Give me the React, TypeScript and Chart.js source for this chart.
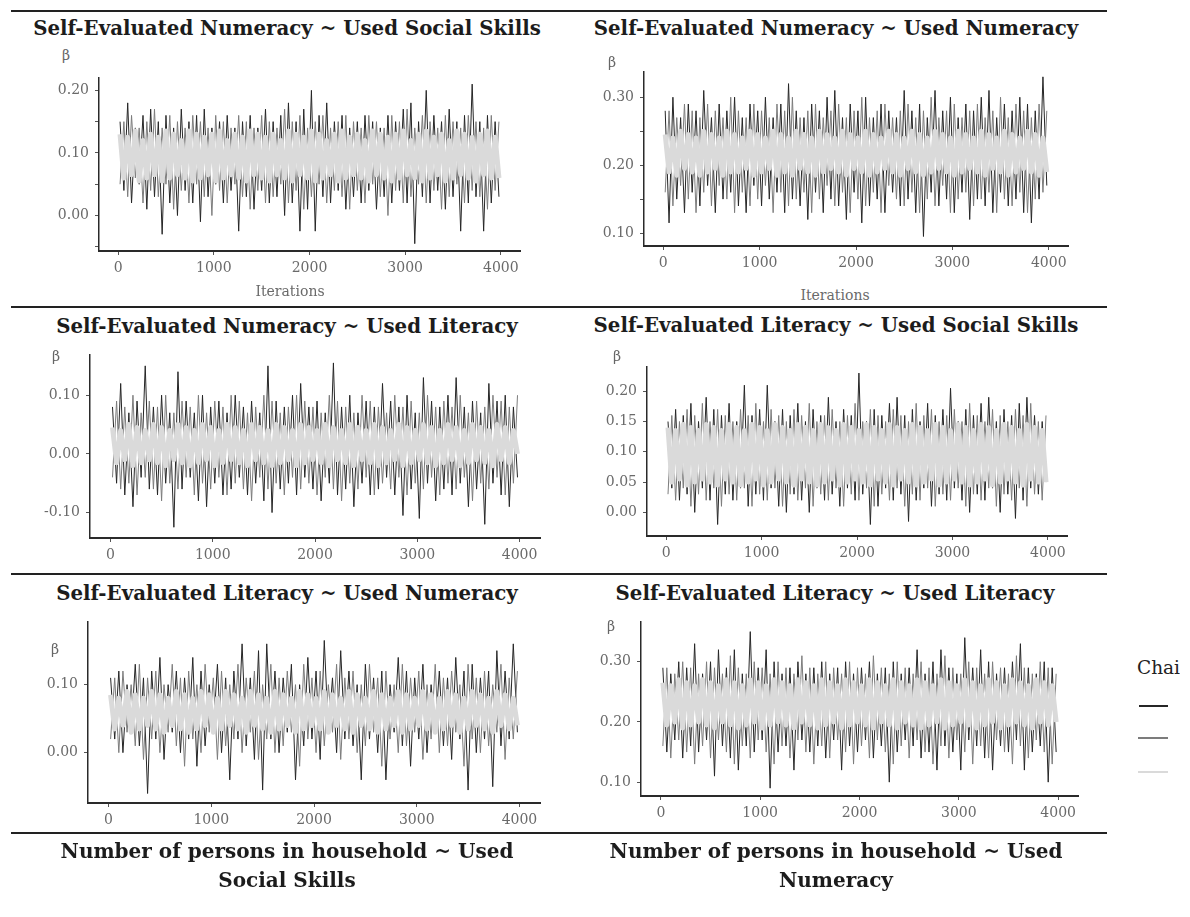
import React, { useEffect, useRef } from 'react';
import { Chart, registerables } from 'chart.js';

Chart.register(...registerables);

// ---------- shared axis data ----------
const ITER_START = 20; // first stored (thinned) draw
const ITER_STEP = 40; // one stored draw every 40 iterations
const X_TICKS = [0, 1000, 2000, 3000, 4000];
const X_LABELS = ['0', '1000', '2000', '3000', '4000'];
const X_MIN = -200;
const X_MAX = 4200;

// ---------- Panel 1: Self-Evaluated Numeracy ~ Used Social Skills ----------
const P1_CHAIN1 = [
  0.15, 0.04, 0.18, 0.02, 0.14, 0.05, 0.16, 0.01, 0.17, 0.03, 0.15, -0.03, 0.16, 0.02, 0.14, 0.0, 0.17, 0.04, 0.15, 0.02,
  0.16, -0.01, 0.17, 0.03, 0.14, 0.05, 0.15, 0.02, 0.16, 0.04, 0.14, -0.025, 0.15, 0.03, 0.16, 0.01, 0.14, 0.04, 0.17, 0.02,
  0.15, 0.03, 0.16, 0.0, 0.18, 0.02, 0.15, -0.025, 0.17, 0.01, 0.2, -0.025, 0.16, 0.03, 0.18, 0.02, 0.15, 0.04, 0.16, 0.01,
  0.14, 0.03, 0.15, 0.02, 0.16, 0.04, 0.15, 0.01, 0.14, 0.03, 0.16, 0.02, 0.15, 0.04, 0.17, 0.02, 0.18, -0.045, 0.15, 0.03,
  0.2, 0.02, 0.16, 0.04, 0.15, 0.01, 0.17, 0.03, 0.15, -0.025, 0.16, 0.02, 0.21, 0.03, 0.15, -0.025, 0.16, 0.02, 0.15, 0.03,
];
const P1_CHAIN2 = [
  0.05, 0.15, 0.03, 0.16, 0.06, 0.14, 0.02, 0.15, 0.04, 0.17, 0.03, 0.14, 0.05, 0.16, 0.01, 0.15, 0.04, 0.14, 0.02, 0.16,
  0.05, 0.15, 0.03, 0.14, 0.0, 0.16, 0.04, 0.15, 0.02, 0.14, 0.05, 0.16, 0.03, 0.15, 0.01, 0.14, 0.04, 0.16, 0.02, 0.15,
  0.03, 0.14, 0.05, 0.17, 0.02, 0.15, 0.04, 0.16, 0.01, 0.14, 0.03, 0.15, 0.05, 0.16, 0.02, 0.14, 0.04, 0.15, 0.03, 0.16,
  0.01, 0.15, 0.04, 0.14, 0.02, 0.16, 0.05, 0.15, 0.03, 0.14, 0.0, 0.16, 0.04, 0.15, 0.02, 0.17, 0.03, 0.14, 0.05, 0.16,
  0.02, 0.15, 0.04, 0.14, 0.01, 0.16, 0.03, 0.15, 0.05, 0.14, 0.02, 0.16, 0.04, 0.15, 0.03, 0.14, 0.01, 0.16, 0.04, 0.15,
];
const P1_CHAIN3 = [
  0.13, 0.06, 0.125, 0.065, 0.135, 0.055, 0.12, 0.06, 0.13, 0.065,
  0.125, 0.055, 0.135, 0.06, 0.13, 0.065, 0.12, 0.06, 0.135, 0.055,
  0.13, 0.06, 0.125, 0.065, 0.13, 0.055, 0.135, 0.06, 0.12, 0.065,
  0.13, 0.06, 0.125, 0.055, 0.135, 0.065, 0.13, 0.06, 0.125, 0.055,
  0.13, 0.065, 0.12, 0.06, 0.135, 0.055, 0.13, 0.065, 0.125, 0.06,
  0.135, 0.055, 0.13, 0.06, 0.12, 0.065, 0.13, 0.055, 0.135, 0.06,
  0.125, 0.065, 0.13, 0.06, 0.12, 0.055, 0.135, 0.065, 0.13, 0.06,
  0.125, 0.055, 0.13, 0.06, 0.135, 0.065, 0.12, 0.06, 0.13, 0.055,
  0.135, 0.06, 0.125, 0.065, 0.13, 0.055, 0.12, 0.06, 0.135, 0.065,
  0.13, 0.06, 0.125, 0.055, 0.13, 0.065, 0.135, 0.06, 0.125, 0.06,
];
const P1_Y_TICKS = [-0.05, 0, 0.05, 0.1, 0.15, 0.2];
const P1_Y_LABELS = ['', '0.00', '', '0.10', '', '0.20'];

// ---------- Panel 2: Self-Evaluated Numeracy ~ Used Numeracy ----------
const P2_CHAIN1 = [
  0.28, 0.115, 0.3, 0.15, 0.27, 0.13, 0.29, 0.16, 0.28, 0.14, 0.31, 0.17, 0.27, 0.13, 0.29, 0.15, 0.28, 0.16, 0.3, 0.14,
  0.27, 0.13, 0.29, 0.17, 0.28, 0.14, 0.3, 0.15, 0.27, 0.16, 0.29, 0.13, 0.32, 0.15, 0.28, 0.14, 0.27, 0.12, 0.29, 0.16,
  0.28, 0.13, 0.3, 0.15, 0.31, 0.14, 0.27, 0.12, 0.29, 0.16, 0.28, 0.115, 0.3, 0.14, 0.27, 0.15, 0.29, 0.13, 0.28, 0.16,
  0.27, 0.14, 0.31, 0.15, 0.28, 0.13, 0.29, 0.095, 0.27, 0.16, 0.31, 0.14, 0.28, 0.15, 0.3, 0.13, 0.27, 0.16, 0.29, 0.12,
  0.28, 0.15, 0.3, 0.14, 0.31, 0.13, 0.27, 0.16, 0.29, 0.14, 0.28, 0.15, 0.3, 0.13, 0.29, 0.115, 0.28, 0.15, 0.33, 0.17,
];
const P2_CHAIN2 = [
  0.16, 0.28, 0.14, 0.27, 0.17, 0.29, 0.15, 0.28, 0.13, 0.27, 0.16, 0.29, 0.14, 0.28, 0.17, 0.27, 0.15, 0.3, 0.13, 0.28,
  0.16, 0.27, 0.14, 0.29, 0.15, 0.28, 0.17, 0.27, 0.13, 0.29, 0.16, 0.28, 0.14, 0.3, 0.15, 0.27, 0.16, 0.28, 0.13, 0.29,
  0.15, 0.27, 0.17, 0.28, 0.14, 0.29, 0.16, 0.27, 0.13, 0.28, 0.15, 0.3, 0.14, 0.27, 0.16, 0.28, 0.13, 0.29, 0.17, 0.27,
  0.15, 0.28, 0.14, 0.29, 0.16, 0.27, 0.13, 0.28, 0.15, 0.3, 0.14, 0.27, 0.17, 0.28, 0.13, 0.29, 0.15, 0.27, 0.16, 0.28,
  0.14, 0.29, 0.15, 0.27, 0.16, 0.28, 0.13, 0.3, 0.15, 0.27, 0.14, 0.29, 0.16, 0.28, 0.13, 0.27, 0.15, 0.29, 0.16, 0.28,
];
const P2_CHAIN3 = [
  0.245, 0.19, 0.24, 0.185, 0.25, 0.195, 0.245, 0.19, 0.24, 0.185,
  0.25, 0.19, 0.245, 0.195, 0.24, 0.185, 0.25, 0.19, 0.245, 0.19,
  0.24, 0.195, 0.25, 0.185, 0.245, 0.19, 0.24, 0.195, 0.25, 0.185,
  0.245, 0.19, 0.24, 0.185, 0.25, 0.195, 0.245, 0.19, 0.24, 0.185,
  0.25, 0.19, 0.245, 0.195, 0.24, 0.19, 0.25, 0.185, 0.245, 0.195,
  0.24, 0.19, 0.25, 0.185, 0.245, 0.19, 0.24, 0.195, 0.25, 0.19,
  0.245, 0.185, 0.24, 0.195, 0.25, 0.19, 0.245, 0.185, 0.24, 0.19,
  0.25, 0.195, 0.245, 0.19, 0.24, 0.185, 0.25, 0.19, 0.245, 0.195,
  0.24, 0.19, 0.25, 0.185, 0.245, 0.195, 0.24, 0.19, 0.25, 0.185,
  0.245, 0.19, 0.24, 0.195, 0.25, 0.19, 0.245, 0.185, 0.24, 0.19,
];
const P2_Y_TICKS = [0.1, 0.15, 0.2, 0.25, 0.3];
const P2_Y_LABELS = ['0.10', '', '0.20', '', '0.30'];

// ---------- Panel 3: Self-Evaluated Numeracy ~ Used Literacy ----------
const P3_CHAIN1 = [
  0.08, -0.05, 0.12, -0.07, 0.07, -0.09, 0.09, -0.04, 0.15, -0.06, 0.08, -0.07, 0.1, -0.05, 0.07, -0.125, 0.14, -0.06, 0.09, -0.04,
  0.07, -0.08, 0.1, -0.09, 0.08, -0.05, 0.09, -0.07, 0.07, -0.06, 0.1, -0.04, 0.08, -0.07, 0.09, -0.05, 0.07, -0.08, 0.15, -0.1,
  0.09, -0.06, 0.08, -0.05, 0.1, -0.07, 0.12, -0.04, 0.08, -0.06, 0.09, -0.08, 0.07, -0.05, 0.155, -0.07, 0.08, -0.06, 0.1, -0.09,
  0.07, -0.05, 0.09, -0.07, 0.08, -0.06, 0.12, -0.04, 0.09, -0.07, 0.08, -0.105, 0.1, -0.06, 0.07, -0.11, 0.13, -0.05, 0.09, -0.08,
  0.08, -0.06, 0.1, -0.07, 0.13, -0.05, 0.08, -0.09, 0.09, -0.06, 0.07, -0.12, 0.12, -0.05, 0.09, -0.07, 0.1, -0.09, 0.08, -0.04,
];
const P3_CHAIN2 = [
  -0.04, 0.09, -0.06, 0.08, -0.05, 0.1, -0.07, 0.07, -0.04, 0.09, -0.06, 0.08, -0.08, 0.1, -0.05, 0.07, -0.06, 0.09, -0.04, 0.08,
  -0.07, 0.1, -0.05, 0.07, -0.06, 0.09, -0.04, 0.08, -0.07, 0.1, -0.05, 0.09, -0.06, 0.07, -0.08, 0.08, -0.04, 0.1, -0.06, 0.09,
  -0.05, 0.07, -0.07, 0.08, -0.04, 0.1, -0.06, 0.09, -0.05, 0.08, -0.07, 0.07, -0.04, 0.1, -0.06, 0.09, -0.08, 0.08, -0.05, 0.07,
  -0.06, 0.1, -0.04, 0.09, -0.07, 0.08, -0.05, 0.07, -0.06, 0.1, -0.04, 0.08, -0.07, 0.09, -0.05, 0.07, -0.06, 0.1, -0.04, 0.08,
  -0.07, 0.09, -0.05, 0.08, -0.06, 0.1, -0.04, 0.07, -0.08, 0.09, -0.05, 0.08, -0.06, 0.1, -0.04, 0.09, -0.07, 0.08, -0.05, 0.1,
];
const P3_CHAIN3 = [
  0.045, -0.015, 0.04, -0.01, 0.05, -0.02, 0.045, -0.015, 0.04, -0.01,
  0.05, -0.015, 0.045, -0.02, 0.04, -0.01, 0.05, -0.015, 0.045, -0.02,
  0.04, -0.015, 0.05, -0.01, 0.045, -0.02, 0.04, -0.015, 0.05, -0.01,
  0.045, -0.015, 0.04, -0.02, 0.05, -0.01, 0.045, -0.015, 0.04, -0.02,
  0.05, -0.015, 0.045, -0.01, 0.04, -0.02, 0.05, -0.015, 0.045, -0.01,
  0.04, -0.015, 0.05, -0.02, 0.045, -0.01, 0.04, -0.015, 0.05, -0.02,
  0.045, -0.01, 0.04, -0.015, 0.05, -0.02, 0.045, -0.015, 0.04, -0.01,
  0.05, -0.02, 0.045, -0.015, 0.04, -0.01, 0.05, -0.015, 0.045, -0.02,
  0.04, -0.015, 0.05, -0.01, 0.045, -0.02, 0.04, -0.015, 0.05, -0.01,
  0.045, -0.015, 0.04, -0.02, 0.05, -0.01, 0.045, -0.015, 0.04, 0.0,
];
const P3_Y_TICKS = [-0.1, 0, 0.1];
const P3_Y_LABELS = ['-0.10', '0.00', '0.10'];

// ---------- Panel 4: Self-Evaluated Literacy ~ Used Social Skills ----------
const P4_CHAIN1 = [
  0.15, 0.04, 0.17, 0.02, 0.16, 0.03, 0.18, 0.0, 0.15, 0.04, 0.19, 0.02, 0.17, -0.02, 0.16, 0.03, 0.18, 0.02, 0.15, 0.04,
  0.21, 0.01, 0.16, 0.03, 0.17, 0.02, 0.21, 0.04, 0.15, 0.01, 0.17, 0.0, 0.16, 0.03, 0.18, 0.02, 0.15, 0.0, 0.17, 0.04,
  0.16, 0.02, 0.19, 0.03, 0.15, 0.01, 0.17, 0.04, 0.16, 0.02, 0.23, 0.03, 0.15, -0.02, 0.17, 0.01, 0.16, 0.04, 0.18, 0.02,
  0.19, 0.03, 0.16, -0.015, 0.17, 0.02, 0.15, 0.04, 0.18, 0.01, 0.16, 0.03, 0.17, 0.02, 0.205, 0.04, 0.15, 0.02, 0.17, 0.0,
  0.16, 0.03, 0.18, 0.02, 0.19, 0.04, 0.15, 0.0, 0.17, 0.03, 0.16, -0.01, 0.18, 0.02, 0.19, 0.04, 0.16, 0.03, 0.15, 0.05,
];
const P4_CHAIN2 = [
  0.03, 0.16, 0.02, 0.15, 0.04, 0.17, 0.01, 0.16, 0.03, 0.18, 0.02, 0.15, 0.04, 0.17, 0.01, 0.16, 0.03, 0.15, 0.02, 0.17,
  0.04, 0.16, 0.01, 0.18, 0.03, 0.15, 0.02, 0.17, 0.04, 0.16, 0.01, 0.15, 0.03, 0.17, 0.02, 0.16, 0.04, 0.18, 0.01, 0.15,
  0.03, 0.16, 0.02, 0.17, 0.04, 0.15, 0.01, 0.16, 0.03, 0.18, 0.02, 0.15, 0.04, 0.17, 0.01, 0.16, 0.03, 0.15, 0.02, 0.17,
  0.04, 0.16, 0.01, 0.15, 0.03, 0.18, 0.02, 0.16, 0.04, 0.17, 0.01, 0.15, 0.03, 0.16, 0.02, 0.17, 0.04, 0.15, 0.01, 0.18,
  0.03, 0.16, 0.02, 0.15, 0.04, 0.17, 0.01, 0.16, 0.03, 0.15, 0.02, 0.17, 0.04, 0.16, 0.01, 0.18, 0.03, 0.15, 0.02, 0.16,
];
const P4_CHAIN3 = [
  0.14, 0.05, 0.135, 0.055, 0.145, 0.045, 0.14, 0.05, 0.135, 0.055,
  0.145, 0.05, 0.14, 0.045, 0.135, 0.055, 0.145, 0.05, 0.14, 0.045,
  0.135, 0.05, 0.145, 0.055, 0.14, 0.045, 0.135, 0.05, 0.145, 0.055,
  0.14, 0.05, 0.135, 0.045, 0.145, 0.055, 0.14, 0.05, 0.135, 0.045,
  0.145, 0.05, 0.14, 0.055, 0.135, 0.045, 0.145, 0.05, 0.14, 0.055,
  0.135, 0.05, 0.145, 0.045, 0.14, 0.055, 0.135, 0.05, 0.145, 0.045,
  0.14, 0.055, 0.135, 0.05, 0.145, 0.045, 0.14, 0.05, 0.135, 0.055,
  0.145, 0.045, 0.14, 0.05, 0.135, 0.055, 0.145, 0.05, 0.14, 0.045,
  0.135, 0.05, 0.145, 0.055, 0.14, 0.045, 0.135, 0.05, 0.145, 0.055,
  0.14, 0.05, 0.135, 0.045, 0.145, 0.055, 0.14, 0.05, 0.135, 0.05,
];
const P4_Y_TICKS = [0, 0.05, 0.1, 0.15, 0.2];
const P4_Y_LABELS = ['0.00', '0.05', '0.10', '0.15', '0.20'];

// ---------- Panel 5: Self-Evaluated Literacy ~ Used Numeracy ----------
const P5_CHAIN1 = [
  0.11, 0.02, 0.12, 0.0, 0.1, 0.03, 0.13, 0.01, 0.11, -0.06, 0.12, 0.02, 0.14, -0.01, 0.1, 0.03, 0.12, 0.0, 0.11, 0.02,
  0.14, -0.02, 0.12, 0.01, 0.1, 0.03, 0.13, 0.0, 0.11, -0.04, 0.12, 0.02, 0.16, 0.01, 0.11, -0.01, 0.15, -0.055, 0.16, 0.02,
  0.12, 0.0, 0.11, 0.03, 0.13, -0.04, 0.1, 0.01, 0.14, 0.02, 0.12, -0.01, 0.165, 0.03, 0.11, 0.0, 0.15, 0.02, 0.12, 0.01,
  0.1, -0.04, 0.13, 0.02, 0.11, 0.0, 0.12, -0.04, 0.1, 0.03, 0.14, 0.01, 0.12, -0.02, 0.11, 0.02, 0.13, 0.0, 0.1, 0.03,
  0.12, 0.01, 0.11, -0.01, 0.14, 0.02, 0.12, -0.055, 0.13, 0.0, 0.11, 0.02, 0.12, -0.05, 0.15, 0.01, 0.12, 0.02, 0.16, 0.03,
];
const P5_CHAIN2 = [
  0.02, 0.11, 0.0, 0.12, 0.03, 0.1, 0.01, 0.13, -0.01, 0.11, 0.02, 0.12, 0.0, 0.1, 0.03, 0.13, 0.01, 0.11, -0.02, 0.12,
  0.02, 0.1, 0.0, 0.13, 0.03, 0.11, -0.01, 0.12, 0.01, 0.1, 0.02, 0.13, 0.0, 0.11, 0.03, 0.12, -0.01, 0.1, 0.02, 0.13,
  0.0, 0.11, 0.01, 0.12, 0.03, 0.1, -0.02, 0.13, 0.02, 0.11, 0.0, 0.12, 0.01, 0.1, 0.03, 0.13, -0.01, 0.11, 0.02, 0.12,
  0.0, 0.1, 0.01, 0.13, 0.03, 0.11, -0.02, 0.12, 0.02, 0.1, 0.0, 0.13, 0.01, 0.11, 0.03, 0.12, -0.01, 0.1, 0.02, 0.13,
  0.0, 0.11, 0.01, 0.12, 0.03, 0.1, -0.02, 0.13, 0.02, 0.11, 0.0, 0.12, 0.01, 0.1, 0.03, 0.13, -0.01, 0.11, 0.02, 0.12,
];
const P5_CHAIN3 = [
  0.085, 0.035, 0.08, 0.04, 0.09, 0.03, 0.085, 0.035, 0.08, 0.04,
  0.09, 0.035, 0.085, 0.03, 0.08, 0.04, 0.09, 0.035, 0.085, 0.03,
  0.08, 0.035, 0.09, 0.04, 0.085, 0.03, 0.08, 0.035, 0.09, 0.04,
  0.085, 0.035, 0.08, 0.03, 0.09, 0.04, 0.085, 0.035, 0.08, 0.03,
  0.09, 0.035, 0.085, 0.04, 0.08, 0.03, 0.09, 0.035, 0.085, 0.04,
  0.08, 0.035, 0.09, 0.03, 0.085, 0.04, 0.08, 0.035, 0.09, 0.03,
  0.085, 0.04, 0.08, 0.035, 0.09, 0.03, 0.085, 0.035, 0.08, 0.04,
  0.09, 0.03, 0.085, 0.035, 0.08, 0.04, 0.09, 0.035, 0.085, 0.03,
  0.08, 0.035, 0.09, 0.04, 0.085, 0.03, 0.08, 0.035, 0.09, 0.04,
  0.085, 0.035, 0.08, 0.03, 0.09, 0.04, 0.085, 0.035, 0.08, 0.04,
];
const P5_Y_TICKS = [0, 0.1];
const P5_Y_LABELS = ['0.00', '0.10'];

// ---------- Panel 6: Self-Evaluated Literacy ~ Used Literacy ----------
const P6_CHAIN1 = [
  0.29, 0.15, 0.28, 0.17, 0.3, 0.14, 0.29, 0.16, 0.33, 0.15, 0.28, 0.17, 0.3, 0.11, 0.32, 0.16, 0.29, 0.14, 0.32, 0.12,
  0.28, 0.16, 0.35, 0.15, 0.29, 0.17, 0.32, 0.09, 0.3, 0.15, 0.28, 0.16, 0.29, 0.12, 0.3, 0.17, 0.28, 0.15, 0.29, 0.16,
  0.3, 0.14, 0.28, 0.17, 0.29, 0.12, 0.3, 0.16, 0.28, 0.15, 0.29, 0.17, 0.3, 0.14, 0.28, 0.16, 0.29, 0.1, 0.3, 0.15,
  0.28, 0.17, 0.29, 0.16, 0.32, 0.14, 0.28, 0.15, 0.3, 0.12, 0.32, 0.16, 0.29, 0.15, 0.28, 0.12, 0.34, 0.17, 0.29, 0.16,
  0.32, 0.14, 0.3, 0.12, 0.28, 0.16, 0.29, 0.15, 0.3, 0.17, 0.33, 0.12, 0.29, 0.15, 0.28, 0.16, 0.3, 0.1, 0.29, 0.15,
];
const P6_CHAIN2 = [
  0.16, 0.29, 0.14, 0.28, 0.17, 0.3, 0.15, 0.29, 0.13, 0.28, 0.16, 0.3, 0.14, 0.29, 0.17, 0.28, 0.15, 0.31, 0.13, 0.29,
  0.16, 0.28, 0.14, 0.3, 0.17, 0.29, 0.15, 0.28, 0.13, 0.3, 0.16, 0.29, 0.14, 0.28, 0.17, 0.31, 0.15, 0.29, 0.13, 0.28,
  0.16, 0.3, 0.14, 0.29, 0.17, 0.28, 0.15, 0.3, 0.13, 0.29, 0.16, 0.28, 0.14, 0.31, 0.17, 0.29, 0.15, 0.28, 0.13, 0.3,
  0.16, 0.29, 0.14, 0.28, 0.17, 0.3, 0.15, 0.29, 0.13, 0.28, 0.16, 0.31, 0.14, 0.29, 0.17, 0.28, 0.15, 0.3, 0.13, 0.29,
  0.16, 0.28, 0.14, 0.3, 0.17, 0.29, 0.15, 0.28, 0.13, 0.31, 0.16, 0.29, 0.14, 0.28, 0.17, 0.3, 0.15, 0.29, 0.13, 0.28,
];
const P6_CHAIN3 = [
  0.265, 0.195, 0.26, 0.2, 0.27, 0.19, 0.265, 0.195, 0.26, 0.2,
  0.27, 0.195, 0.265, 0.19, 0.26, 0.2, 0.27, 0.195, 0.265, 0.19,
  0.26, 0.195, 0.27, 0.2, 0.265, 0.19, 0.26, 0.195, 0.27, 0.2,
  0.265, 0.195, 0.26, 0.19, 0.27, 0.2, 0.265, 0.195, 0.26, 0.19,
  0.27, 0.195, 0.265, 0.2, 0.26, 0.19, 0.27, 0.195, 0.265, 0.2,
  0.26, 0.195, 0.27, 0.19, 0.265, 0.2, 0.26, 0.195, 0.27, 0.19,
  0.265, 0.2, 0.26, 0.195, 0.27, 0.19, 0.265, 0.195, 0.26, 0.2,
  0.27, 0.19, 0.265, 0.195, 0.26, 0.2, 0.27, 0.195, 0.265, 0.19,
  0.26, 0.195, 0.27, 0.2, 0.265, 0.19, 0.26, 0.195, 0.27, 0.2,
  0.265, 0.195, 0.26, 0.19, 0.27, 0.2, 0.265, 0.195, 0.26, 0.2,
];
const P6_Y_TICKS = [0.1, 0.2, 0.3];
const P6_Y_LABELS = ['0.10', '0.20', '0.30'];

// ---------- text ----------
const PANEL_TITLES = [
  'Self-Evaluated Numeracy ~ Used Social Skills',
  'Self-Evaluated Numeracy ~ Used Numeracy',
  'Self-Evaluated Numeracy ~ Used Literacy',
  'Self-Evaluated Literacy ~ Used Social Skills',
  'Self-Evaluated Literacy ~ Used Numeracy',
  'Self-Evaluated Literacy ~ Used Literacy',
];
const BOTTOM_TITLES = [
  ['Number of persons in household ~ Used', 'Social Skills'],
  ['Number of persons in household ~ Used', 'Numeracy'],
];
const CHAIN_COLORS = ['#262626', '#7c7c7c', '#dadada'];
const CHAIN_WIDTHS = [1, 1, 5];
const LEGEND_TITLE = 'Chain';

// ---------- layout (page pixels) ----------
type PanelCfg = {
  rect: [number, number, number, number]; // plot area: left, top, right, bottom
  yMin: number;
  yMax: number;
  yTicks: number[];
  yLabels: string[];
  chains: number[][];
  title: string;
  titleX: number;
  titleBase: number;
  beta: [number, number];
  iterLabel?: [number, number];
};

const PANELS: PanelCfg[] = [
  { rect: [99, 73, 520, 251], yMin: -0.0567, yMax: 0.2207, yTicks: P1_Y_TICKS, yLabels: P1_Y_LABELS,
    chains: [P1_CHAIN1, P1_CHAIN2, P1_CHAIN3], title: PANEL_TITLES[0], titleX: 287, titleBase: 36, beta: [66, 55], iterLabel: [290, 291] },
  { rect: [644, 67, 1068, 246], yMin: 0.081, yMax: 0.338, yTicks: P2_Y_TICKS, yLabels: P2_Y_LABELS,
    chains: [P2_CHAIN1, P2_CHAIN2, P2_CHAIN3], title: PANEL_TITLES[1], titleX: 836, titleBase: 36, beta: [612, 62], iterLabel: [835, 295] },
  { rect: [90, 350, 540, 538], yMin: -0.1433, yMax: 0.1695, yTicks: P3_Y_TICKS, yLabels: P3_Y_LABELS,
    chains: [P3_CHAIN1, P3_CHAIN2, P3_CHAIN3], title: PANEL_TITLES[2], titleX: 287, titleBase: 334, beta: [56, 356] },
  { rect: [647, 362, 1067, 536], yMin: -0.039, yMax: 0.241, yTicks: P4_Y_TICKS, yLabels: P4_Y_LABELS,
    chains: [P4_CHAIN1, P4_CHAIN2, P4_CHAIN3], title: PANEL_TITLES[3], titleX: 836, titleBase: 333, beta: [617, 356] },
  { rect: [88, 617, 540, 803], yMin: -0.074, yMax: 0.193, yTicks: P5_Y_TICKS, yLabels: P5_Y_LABELS,
    chains: [P5_CHAIN1, P5_CHAIN2, P5_CHAIN3], title: PANEL_TITLES[4], titleX: 287, titleBase: 601, beta: [55, 649] },
  { rect: [641, 617, 1078, 796], yMin: 0.077, yMax: 0.367, yTicks: P6_Y_TICKS, yLabels: P6_Y_LABELS,
    chains: [P6_CHAIN1, P6_CHAIN2, P6_CHAIN3], title: PANEL_TITLES[5], titleX: 835, titleBase: 601, beta: [611, 626] },
];

const Y_AXIS_W = 70;
const X_AXIS_H = 35;
const PAD_TOP = 10;
const PAD_RIGHT = 20;
const SERIF = '"DejaVu Serif", "Liberation Serif", serif';

function TracePanel({ cfg }: { cfg: PanelCfg }) {
  const ref = useRef<HTMLCanvasElement | null>(null);
  const [L, T, R, B] = cfg.rect;
  const width = R - L + Y_AXIS_W + PAD_RIGHT;
  const height = B - T + PAD_TOP + X_AXIS_H;

  useEffect(() => {
    if (!ref.current) return;
    const toPoints = (vals: number[]) => vals.map((v, i) => ({ x: ITER_START + i * ITER_STEP, y: v }));
    const datasets = cfg.chains.map((vals, ci) => ({
      label: `Chain ${ci + 1}`,
      data: toPoints(vals),
      borderColor: CHAIN_COLORS[ci],
      borderWidth: CHAIN_WIDTHS[ci],
      pointRadius: 0,
      tension: 0,
      borderJoinStyle: (ci === 2 ? 'round' : 'bevel') as any,
      order: 2 - ci, // chain 3 (light) drawn on top
    }));
    const chart = new Chart(ref.current, {
      type: 'line',
      data: { datasets },
      options: {
        animation: false,
        responsive: false,
        events: [],
        layout: { padding: { top: PAD_TOP, right: PAD_RIGHT, left: 0, bottom: 0 } },
        plugins: { legend: { display: false }, tooltip: { enabled: false }, title: { display: false } },
        scales: {
          x: {
            type: 'linear',
            min: X_MIN,
            max: X_MAX,
            afterBuildTicks: (scale: any) => {
              scale.ticks = X_TICKS.map((v) => ({ value: v }));
            },
            afterFit: (scale: any) => {
              scale.height = X_AXIS_H;
            },
            ticks: {
              autoSkip: false,
              maxRotation: 0,
              minRotation: 0,
              padding: 5,
              color: '#6a6a6a',
              font: { family: SERIF, size: 14 },
              callback: (_v: any, i: number) => X_LABELS[i],
            },
            grid: { display: true, drawOnChartArea: false, drawTicks: true, tickLength: 4, tickColor: '#555', tickWidth: 1 },
            border: { display: true, color: '#2a2a2a', width: 2 },
          },
          y: {
            type: 'linear',
            min: cfg.yMin,
            max: cfg.yMax,
            afterBuildTicks: (scale: any) => {
              scale.ticks = cfg.yTicks.map((v) => ({ value: v }));
            },
            afterFit: (scale: any) => {
              scale.width = Y_AXIS_W;
            },
            ticks: {
              autoSkip: false,
              padding: 6,
              color: '#6a6a6a',
              font: { family: SERIF, size: 14 },
              callback: (_v: any, i: number) => cfg.yLabels[i],
            },
            grid: { display: true, drawOnChartArea: false, drawTicks: true, tickLength: 4, tickColor: '#555', tickWidth: 1 },
            border: { display: true, color: '#2a2a2a', width: 1.5 },
          },
        },
      } as any,
    });
    return () => chart.destroy();
  }, [cfg]);

  return (
    <canvas
      ref={ref}
      width={width}
      height={height}
      style={{ position: 'absolute', left: L - Y_AXIS_W, top: T - PAD_TOP, width, height }}
    />
  );
}

const smallText = (x: number, y: number, text: string, size: number, color: string) => (
  <div
    key={`${text}-${x}-${y}`}
    style={{
      position: 'absolute',
      left: x,
      top: y,
      transform: 'translate(-50%, -50%)',
      fontFamily: SERIF,
      fontSize: size,
      lineHeight: `${size}px`,
      color,
      whiteSpace: 'nowrap',
    }}
  >
    {text}
  </div>
);

const TITLE_SIZE = 19.8;

function Title({ text, cx, baseline }: { text: string; cx: number; baseline: number }) {
  return (
    <div
      style={{
        position: 'absolute',
        left: cx - 400,
        width: 800,
        top: baseline - Math.round(TITLE_SIZE * 0.846),
        textAlign: 'center',
        fontFamily: SERIF,
        fontWeight: 'bold',
        fontSize: TITLE_SIZE,
        lineHeight: `${TITLE_SIZE}px`,
        color: '#1c1c1c',
        whiteSpace: 'nowrap',
      }}
    >
      {text}
    </div>
  );
}

const RULES_Y = [10, 306, 573, 832];

export default function App() {
  return (
    <div
      style={{
        position: 'fixed',
        left: 0,
        top: 0,
        width: 1190,
        height: 917,
        background: '#ffffff',
        overflow: 'hidden',
      }}
    >
      {RULES_Y.map((y) => (
        <div key={y} style={{ position: 'absolute', left: 11, top: y, width: 1096, height: 2, background: '#222' }} />
      ))}
      {PANELS.map((p, i) => (
        <React.Fragment key={i}>
          <Title text={p.title} cx={p.titleX} baseline={p.titleBase} />
          <TracePanel cfg={p} />
          {smallText(p.beta[0], p.beta[1], 'β', 14, '#666')}
          {p.iterLabel ? smallText(p.iterLabel[0], p.iterLabel[1], 'Iterations', 14, '#6a6a6a') : null}
        </React.Fragment>
      ))}
      {BOTTOM_TITLES.map((lines, i) => (
        <div
          key={`b${i}`}
          style={{
            position: 'absolute',
            left: (i === 0 ? 287 : 836) - 400,
            width: 800,
            top: 837,
            textAlign: 'center',
            fontFamily: SERIF,
            fontWeight: 'bold',
            fontSize: 20,
            lineHeight: '29px',
            color: '#1c1c1c',
            whiteSpace: 'nowrap',
          }}
        >
          {lines[0]}
          <br />
          {lines[1]}
        </div>
      ))}
      {/* legend (cut at the right edge as in the source) */}
      <div
        style={{
          position: 'absolute',
          left: 1137,
          top: 675 - Math.round(18.5 * 0.846),
          width: 43,
          overflow: 'hidden',
          fontFamily: SERIF,
          fontSize: 18.5,
          lineHeight: '18.5px',
          color: '#222',
          whiteSpace: 'nowrap',
        }}
      >
        {LEGEND_TITLE}
      </div>
      <div style={{ position: 'absolute', left: 1139, top: 705, width: 29, height: 2, background: CHAIN_COLORS[0] }} />
      <div style={{ position: 'absolute', left: 1138, top: 737, width: 30, height: 1.5, background: CHAIN_COLORS[1] }} />
      <div style={{ position: 'absolute', left: 1138, top: 771, width: 30, height: 2, background: CHAIN_COLORS[2] }} />
    </div>
  );
}
